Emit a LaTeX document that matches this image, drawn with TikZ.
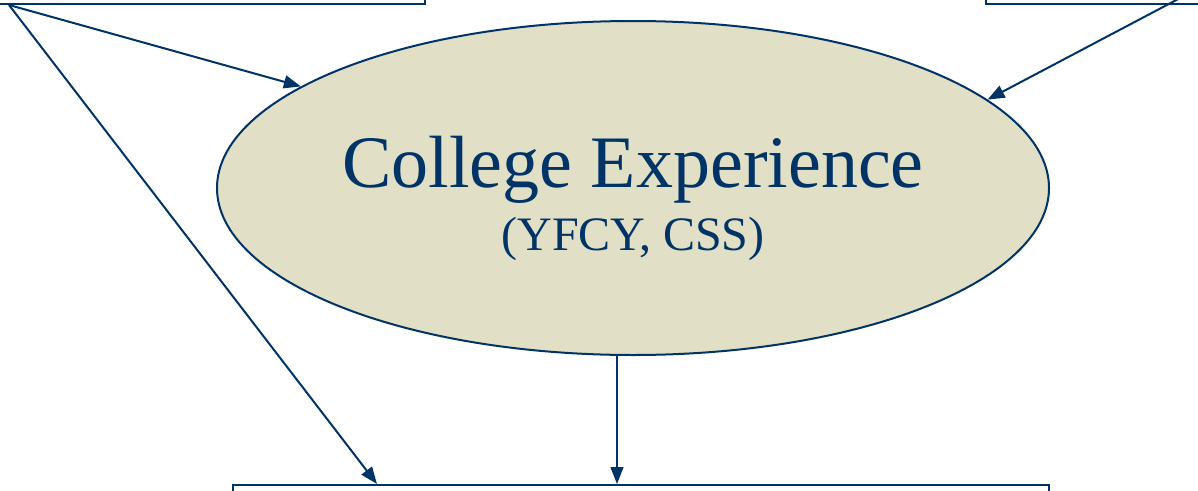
\documentclass[tikz,border=0pt]{standalone}
\usepackage{fontspec}
\setmainfont{Liberation Serif}
\usetikzlibrary{positioning, calc, shapes.geometric, arrows.meta}
\definecolor{navy}{HTML}{003366}
\definecolor{sand}{HTML}{E1DFC5}
\tikzstyle{Arrow} = [
    line width = 2pt,
    draw = navy,
    -{Triangle[length=17pt, width=13pt]}
]

\begin{document}
\begin{tikzpicture}[
x = 1pt, y = -1pt,
box/.style={
    rectangle,
    draw = navy,
    line width = 2pt
    },
bubble/.style={
    ellipse,
    draw = navy,
    fill = sand,
    line width = 2pt,
    inner sep = 0pt,
    minimum width = 832pt,
    minimum height = 334pt
    }
]
\useasboundingbox (0,0) rectangle (1198,490);
\clip (0,0) rectangle (1198,490);

\node [box, minimum width = 485pt, minimum height = 104pt] (inputs) at (182.5,-48) {};
\node [box, minimum width = 274pt, minimum height = 104pt] (environment) at (1123,-48) {};
\node [box, minimum width = 816pt, minimum height = 115pt] (outcomes) at (641,542.5) {};
\node [bubble, label={[text=navy, align=center, yshift=-10pt, font=\fontsize{48}{63}\selectfont]center:
    {\fontsize{74}{63}\selectfont College Experience}\\(YFCY, CSS)}] (college) at (633,188) {};

\coordinate (lt) at ($(inputs.south west)+(70,0)$);
\coordinate (rt) at ($(environment.south west)+(197,-8)$);
\coordinate (drop) at ($(college.south)+(-16,0)$);

\draw[Arrow] (lt) -- (college.163);
\draw[Arrow] (lt) -- ($(outcomes.north west)+(145,0)$);
\draw[Arrow] (rt) -- (college.14);
\draw[Arrow, line width = 1.3pt] (drop) -- (drop |- outcomes.north);

\end{tikzpicture}
\end{document}
